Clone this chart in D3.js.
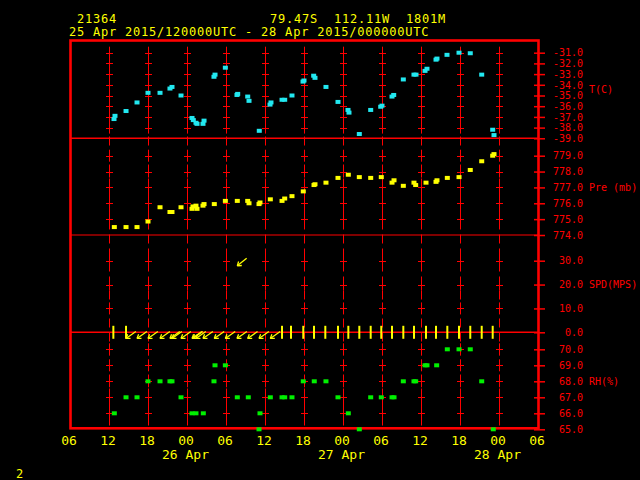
<!DOCTYPE html>
<html><head><meta charset="utf-8">
<script src="https://cdn.jsdelivr.net/npm/d3@7"></script>
<style>html,body{margin:0;padding:0;background:#000;} svg{display:block;}</style>
</head><body>
<svg id="c" width="640" height="480"></svg>
<script>
// ---------- data (times: hours since 25 Apr 2015 00 UTC) ----------
const tTime = [12.77,12.92,14.62,16.31,18.0,19.85,21.38,21.69,23.08,24.77,24.97,25.38,25.54,26.46,26.62,28.15,28.31,29.9,31.69,31.8,33.34,33.54,35.12,36.77,36.92,38.62,39.03,40.15,41.85,42.0,43.49,43.69,45.38,47.23,48.77,48.92,50.51,52.26,53.8,54.0,55.54,55.8,57.28,58.92,59.23,60.62,60.92,62.31,62.46,64.0,65.85,67.58,69.34,71.03,71.23];
const tVal = [-37.2,-36.9,-36.45,-35.65,-34.75,-34.75,-34.35,-34.2,-35.0,-37.1,-37.3,-37.55,-37.65,-37.65,-37.35,-33.25,-33.05,-32.4,-34.95,-34.85,-35.1,-35.5,-38.3,-35.85,-35.65,-35.4,-35.4,-35.0,-33.7,-33.6,-33.15,-33.35,-34.2,-35.6,-36.35,-36.6,-38.6,-36.35,-36.05,-35.95,-35.1,-34.95,-33.5,-33.05,-33.05,-32.7,-32.5,-31.65,-31.55,-31.2,-31.0,-31.05,-33.05,-38.2,-38.7];

const pTime = [12.82,14.62,16.31,18.0,19.85,21.38,21.69,23.08,24.77,24.92,25.38,25.54,26.46,26.62,28.2,29.9,31.74,33.34,33.54,35.08,35.23,36.82,38.62,39.03,40.15,41.89,43.54,43.69,45.38,47.23,48.82,50.51,52.26,53.89,55.54,55.85,57.28,58.92,59.18,60.77,62.31,62.46,64.05,65.85,67.58,69.34,71.03,71.23];
const pVal = [774.5,774.5,774.5,774.85,775.75,775.45,775.45,775.75,775.65,775.8,775.85,775.65,775.85,775.95,775.95,776.15,776.15,776.15,776.0,775.95,776.05,776.25,776.15,776.3,776.45,776.75,777.15,777.2,777.3,777.6,777.8,777.65,777.6,777.65,777.3,777.45,777.1,777.3,777.15,777.3,777.35,777.45,777.6,777.65,778.1,778.65,779.0,779.1];

const wTime = [12.67,14.62,14.62,16.31,18.0,19.85,21.38,21.69,23.08,24.77,24.92,25.38,26.46,28.2,29.9,31.69,31.74,33.34,35.08,36.82,38.62,40.0,41.89,43.54,45.28,47.23,48.82,50.51,52.26,53.89,55.54,57.28,58.92,60.77,62.31,64.05,65.85,67.58,69.34,71.03];
const wSpd  = [0,0,0.3,0.3,0.3,0.3,0.3,0.3,0.3,0.3,0.3,0.3,0.3,0.3,0.3,0.3,31,0.3,0.3,0.3,0,0,0,0,0,0,0,0,0,0,0,0,0,0,0,0,0,0,0,0];
const wDir  = [0,0,55,55,55,55,55,55,55,55,55,55,55,55,55,55,51,55,55,55,0,0,0,0,0,0,0,0,0,0,0,0,0,0,0,0,0,0,0,0];

const rhTime = [12.82,14.62,16.31,18.0,19.85,21.38,21.69,23.08,24.77,25.38,26.51,28.15,28.31,29.9,31.74,33.43,35.08,35.23,36.82,38.62,39.03,40.15,41.89,43.58,45.38,47.23,48.82,50.51,52.26,53.89,55.54,55.85,57.28,58.92,59.18,60.62,60.92,62.41,64.05,65.85,67.58,69.34,71.12];
const rhVal = [66,67,67,68,68,68,68,67,66,66,66,68,69,69,67,67,65,66,67,67,67,67,68,68,68,67,66,65,67,67,67,67,68,68,68,69,69,69,70,70,70,68,65];

const tTicks = [-31,-32,-33,-34,-35,-36,-37,-38,-39];
const pTicks = [779,778,777,776,775,774];
const wTicks = [30,20,10,0];
const rhTicks = [70,69,68,67,66,65];
const dateTicks = [24,48,72];

const stationId = "21364";
const stationPos = "79.47S  112.11W  1801M";
const periodText = "25 Apr 2015/120000UTC - 28 Apr 2015/000000UTC";
const pageNo = "2";

// ---------- setup ----------
const RED = "#ff0000", YEL = "#ffff00", CYAN = "#22e8f0", GREEN = "#00f000";
const T0 = Date.UTC(2015, 3, 25);
const toDate = h => new Date(T0 + h * 3600e3);

const svg = d3.select("#c");
svg.append("rect").attr("width", 640).attr("height", 480).attr("fill", "#000");

const L = 70.5, R = 538.5, TOP = 40.5, BOT = 428.3;
const x = d3.scaleUtc().domain([toDate(6), toDate(78)]).range([70, 538]);
const yT = d3.scaleLinear().domain([-31, -39]).range([52.7, 138.3]);
const yP = d3.scaleLinear().domain([779, 774]).range([155.7, 235]);
const yW = d3.scaleLinear().domain([0, 30]).range([332.3, 260.7]);
const yR = d3.scaleLinear().domain([70, 65]).range([349.3, 429.3]);

const mono = "'DejaVu Sans Mono', 'Liberation Mono', monospace";

// ---------- grid ----------
const gridHours = d3.range(12, 73, 6);
const g = svg.append("g");
// dashed vertical background lines
g.selectAll("line.v").data(gridHours).join("line")
  .attr("x1", d => Math.round(x(toDate(d))) + 0.5).attr("x2", d => Math.round(x(toDate(d))) + 0.5)
  .attr("y1", TOP + 12).attr("y2", BOT)
  .attr("stroke", RED).attr("stroke-width", 1).attr("stroke-dasharray", "9,5");
// crosses
const crossLevels = [].concat(
  tTicks.slice(0, 8).map(v => yT(v)),
  pTicks.slice(0, 5).map(v => yP(v)),
  wTicks.slice(0, 3).map(v => yW(v)),
  rhTicks.slice(0, 5).map(v => yR(v))
);
gridHours.forEach(h => {
  const cx = Math.round(x(toDate(h))) + 0.5;
  crossLevels.forEach(cy => {
    g.append("line").attr("x1", cx).attr("x2", cx).attr("y1", cy - 6).attr("y2", cy + 6)
      .attr("stroke", RED).attr("stroke-width", 1);
    g.append("line").attr("x1", cx - 3.5).attr("x2", cx + 3.5).attr("y1", Math.round(cy) + 0.5).attr("y2", Math.round(cy) + 0.5)
      .attr("stroke", RED).attr("stroke-width", 1);
  });
});

// panel separators
[[yT(-39), 1.6], [yP(774), 1], [yW(0), 1.4]].forEach(([yy, w]) => {
  svg.append("line").attr("x1", L).attr("x2", R).attr("y1", yy).attr("y2", yy)
    .attr("stroke", RED).attr("stroke-width", w);
});

// frame
svg.append("rect").attr("x", L).attr("y", TOP).attr("width", R - L).attr("height", BOT - TOP)
  .attr("fill", "none").attr("stroke", RED).attr("stroke-width", 2.6);

// ---------- right axes ----------
function rightAxis(scale, ticks) {
  const ax = svg.append("g").attr("transform", "translate(534,0)")
    .call(d3.axisRight(scale).tickValues(ticks).tickSize(11).tickFormat(d => d.toFixed(1)));
  ax.select(".domain").remove();
  ax.selectAll(".tick line").attr("stroke", RED).attr("stroke-width", 1.5);
  ax.selectAll(".tick text").attr("fill", RED).attr("x", 49).attr("text-anchor", "end")
    .attr("font-family", mono).attr("font-size", 10);
}
rightAxis(yT, tTicks);
rightAxis(yP, pTicks);
rightAxis(yW, wTicks);
rightAxis(yR, rhTicks);

const names = [["T(C)", yT(-34.4)], ["Pre (mb)", yP(777)], ["SPD(MPS)", yW(20)], ["RH(%)", yR(68)]];
names.forEach(([t, yy]) => {
  svg.append("text").attr("x", 589).attr("y", yy).attr("dy", "0.35em").text(t)
    .attr("fill", RED).attr("font-family", mono).attr("font-size", 10);
});

// ---------- bottom axis ----------
const bx = svg.append("g").attr("transform", "translate(0,436)")
  .call(d3.axisBottom(x).ticks(d3.utcHour.every(6)).tickSize(0).tickPadding(0).tickFormat(d3.utcFormat("%H")));
bx.select(".domain").remove();
bx.selectAll(".tick text").attr("fill", YEL).attr("font-family", mono).attr("font-size", 13).attr("x", -1.5);

const dx = svg.append("g").attr("transform", "translate(0,450)")
  .call(d3.axisBottom(x).tickValues(dateTicks.map(toDate)).tickSize(0).tickPadding(0).tickFormat(d3.utcFormat("%d %b")));
dx.select(".domain").remove();
dx.selectAll(".tick text").attr("fill", YEL).attr("font-family", mono).attr("font-size", 13).attr("x", -2);

// ---------- header ----------
const hdr = (t, xx, yy) => svg.append("text").attr("x", xx).attr("y", yy).text(t)
  .attr("fill", YEL).attr("font-family", mono).attr("font-size", 12).attr("letter-spacing", "0.78px")
  .attr("xml:space", "preserve").style("white-space", "pre");
hdr(stationId, 77, 23);
hdr(stationPos, 270, 23);
hdr(periodText, 69, 36);
svg.append("text").attr("x", 16).attr("y", 478).text(pageNo)
  .attr("fill", YEL).attr("font-family", mono).attr("font-size", 12);

// ---------- data marks ----------
const sq = (sel, color) => sel.attr("width", 5).attr("height", 4).attr("fill", color);
sq(svg.append("g").selectAll("rect").data(tTime.map((t, i) => [t, tVal[i]])).join("rect")
  .attr("x", d => x(toDate(d[0])) - 2.5).attr("y", d => yT(d[1]) - 2), CYAN);
sq(svg.append("g").selectAll("rect").data(pTime.map((t, i) => [t, pVal[i]])).join("rect")
  .attr("x", d => x(toDate(d[0])) - 2.5).attr("y", d => yP(d[1]) - 2), YEL);
sq(svg.append("g").selectAll("rect").data(rhTime.map((t, i) => [t, rhVal[i]])).join("rect")
  .attr("x", d => x(toDate(d[0])) - 2.5).attr("y", d => yR(d[1]) - 2), GREEN);

// wind
const wg = svg.append("g").attr("stroke", YEL).attr("fill", "none");
wTime.forEach((t, i) => {
  const px = x(toDate(t)), py = yW(wSpd[i]);
  if (wSpd[i] === 0) {
    wg.append("line").attr("x1", px).attr("x2", px).attr("y1", py - 6.5).attr("y2", py + 6.5)
      .attr("stroke-width", 2);
    return;
  }
  const a = (wDir[i] + 180) * Math.PI / 180;
  const ux = Math.sin(a), uy = -Math.cos(a), Lw = 12;
  const hx = px, hy = py + uy * Lw;           // arrow head
  const tx = hx - ux * Lw, ty = hy - uy * Lw; // arrow tail
  wg.append("line").attr("x1", tx).attr("y1", ty).attr("x2", hx).attr("y2", hy).attr("stroke-width", 1.3);
  const back = Math.atan2(-uy, -ux);
  [0.6, -0.6].forEach(o => {
    wg.append("line").attr("x1", hx).attr("y1", hy)
      .attr("x2", hx + 4.5 * Math.cos(back + o)).attr("y2", hy + 4.5 * Math.sin(back + o))
      .attr("stroke-width", 1.3);
  });
});
</script>
</body></html>
